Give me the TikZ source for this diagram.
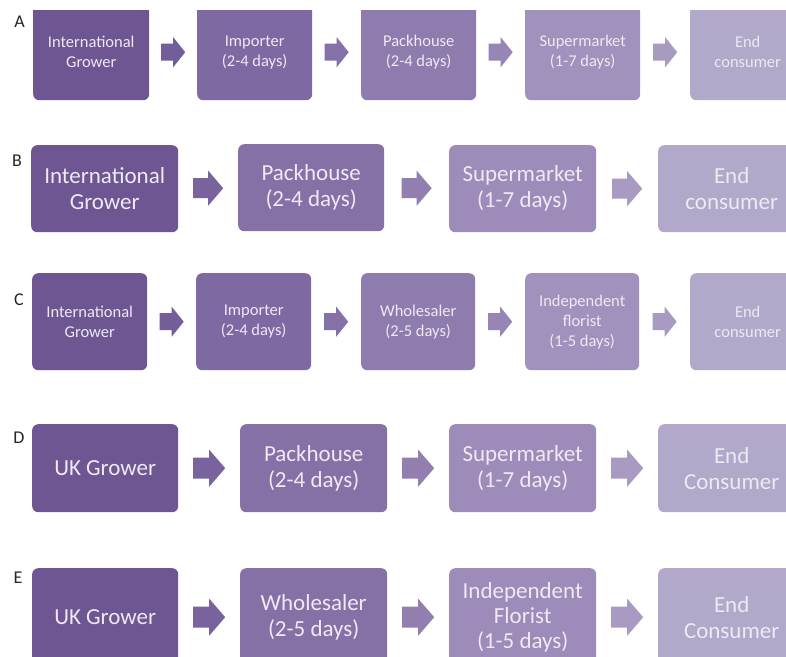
\documentclass[tikz,border=0pt]{standalone}
\usepackage{fontspec}
\setmainfont{Carlito}
\usetikzlibrary{calc}
\definecolor{fa1}{HTML}{6E5693}
\definecolor{fa2}{HTML}{7E69A2}
\definecolor{fa3}{HTML}{8F7CAF}
\definecolor{fa4}{HTML}{A192BD}
\definecolor{fa5}{HTML}{B2A8C9}
\definecolor{fb2}{HTML}{8671A6}
\definecolor{fb3}{HTML}{9D8BB9}
\definecolor{txt}{HTML}{EEE9F3}
\tikzset{
  box/.style={fill=#1, rounded corners=6pt, text=txt, align=center, inner sep=0pt, anchor=north west},
  smalltxt/.style={font=\fontsize{16.5}{20}\selectfont},
  bigtxt/.style={font=\fontsize{23}{26}\selectfont},
  rowlabel/.style={font=\fontsize{18}{20}\selectfont, text=black!85, inner sep=0pt}
}
\newcommand\barrow[6]{%
  \begin{scope}[shift={($(#1.east)!0.5!(#2.west)$)}]
    \fill[#3] (-#4,-#6) -- (0,-#6) -- (0,-#5) -- (#4,0) -- (0,#5) -- (0,#6) -- (-#4,#6) -- cycle;
  \end{scope}}
\begin{document}
\begin{tikzpicture}[x=1pt,y=-1pt]
\useasboundingbox[fill=white] (0,0) rectangle (786,656);
\begin{scope}
\clip (0,10) rectangle (786,656);
% Row A
\node[box=fa1, smalltxt, minimum width=116, minimum height=96] (a1) at (33,4) {International\\Grower};
\node[box=fa2, smalltxt, minimum width=115, minimum height=96] (a2) at (197,4) {Importer\\(2-4 days)};
\node[box=fa3, smalltxt, minimum width=115, minimum height=96] (a3) at (361,4) {Packhouse\\(2-4 days)};
\node[box=fa4, smalltxt, minimum width=115, minimum height=96] (a4) at (525,4) {Supermarket\\(1-7 days)};
\node[box=fa5, smalltxt, minimum width=115, minimum height=96] (a5) at (690,4) {End\\consumer};
\barrow{a1}{a2}{fa1!60!fa2}{12}{15}{8.5}
\barrow{a2}{a3}{fa2!60!fa3}{12}{15}{8.5}
\barrow{a3}{a4}{fa3!60!fa4}{12}{15}{8.5}
\barrow{a4}{a5}{fa4!60!fa5}{12}{15}{8.5}
% Row B
\node[box=fa1, bigtxt, minimum width=147, minimum height=87] (b1) at (31,145) {International\\Grower};
\node[box=fb2, bigtxt, minimum width=146, minimum height=87] (b2) at (238,144) {Packhouse\\(2-4 days)};
\node[box=fb3, bigtxt, minimum width=147, minimum height=87] (b3) at (449,145) {Supermarket\\(1-7 days)};
\node[box=fa5, bigtxt, minimum width=147, minimum height=87] (b4) at (658,145) {End\\consumer};
\barrow{b1}{b2}{fa1!50!fb2}{15}{17.5}{10}
\barrow{b2}{b3}{fb2!50!fb3}{15}{17.5}{10}
\barrow{b3}{b4}{fb3!50!fa5}{15}{17.5}{10}
% Row C
\node[box=fa1, smalltxt, minimum width=115, minimum height=97] (c1) at (32,273) {International\\Grower};
\node[box=fa2, smalltxt, minimum width=115, minimum height=97] (c2) at (196,273) {Importer\\(2-4 days)};
\node[box=fa3, smalltxt, minimum width=114, minimum height=97] (c3) at (361,273) {Wholesaler\\(2-5 days)};
\node[box=fa4, smalltxt, minimum width=114, minimum height=97] (c4) at (525,273) {Independent\\florist\\(1-5 days)};
\node[box=fa5, smalltxt, minimum width=115, minimum height=97] (c5) at (690,273) {End\\consumer};
\barrow{c1}{c2}{fa1!60!fa2}{12}{15}{8.5}
\barrow{c2}{c3}{fa2!60!fa3}{12}{15}{8.5}
\barrow{c3}{c4}{fa3!60!fa4}{12}{15}{8.5}
\barrow{c4}{c5}{fa4!60!fa5}{12}{15}{8.5}
% Row D
\node[box=fa1, bigtxt, minimum width=146, minimum height=88] (d1) at (32,424) {UK Grower};
\node[box=fb2, bigtxt, minimum width=147, minimum height=88] (d2) at (240,424) {Packhouse\\(2-4 days)};
\node[box=fb3, bigtxt, minimum width=147, minimum height=88] (d3) at (449,424) {Supermarket\\(1-7 days)};
\node[box=fa5, bigtxt, minimum width=147, minimum height=88] (d4) at (658,424) {End\\Consumer};
\barrow{d1}{d2}{fa1!50!fb2}{16}{18.5}{10.5}
\barrow{d2}{d3}{fb2!50!fb3}{16}{18.5}{10.5}
\barrow{d3}{d4}{fb3!50!fa5}{16}{18.5}{10.5}
% Row E
\node[box=fa1, bigtxt, minimum width=146, minimum height=98] (e1) at (32,568) {UK Grower};
\node[box=fb2, bigtxt, minimum width=147, minimum height=98] (e2) at (240,568) {Wholesaler\\(2-5 days)};
\node[box=fb3, bigtxt, minimum width=147, minimum height=98, font=\fontsize{23}{25}\selectfont] (e3) at (449,568) {Independent\\Florist\\(1-5 days)};
\node[box=fa5, bigtxt, minimum width=147, minimum height=98] (e4) at (658,568) {End\\Consumer};
\barrow{e1}{e2}{fa1!50!fb2}{16}{18.5}{10.5}
\barrow{e2}{e3}{fb2!50!fb3}{16}{18.5}{10.5}
\barrow{e3}{e4}{fb3!50!fa5}{16}{18.5}{10.5}
\end{scope}
% Row labels
\node[rowlabel] (la) at (19.5,21.5) {A};
\node[rowlabel] (lb) at (17,160.5) {B};
\node[rowlabel] (lc) at (19,300) {C};
\node[rowlabel] (ld) at (19,438) {D};
\node[rowlabel] (le) at (18,578) {E};
\end{tikzpicture}
\end{document}
